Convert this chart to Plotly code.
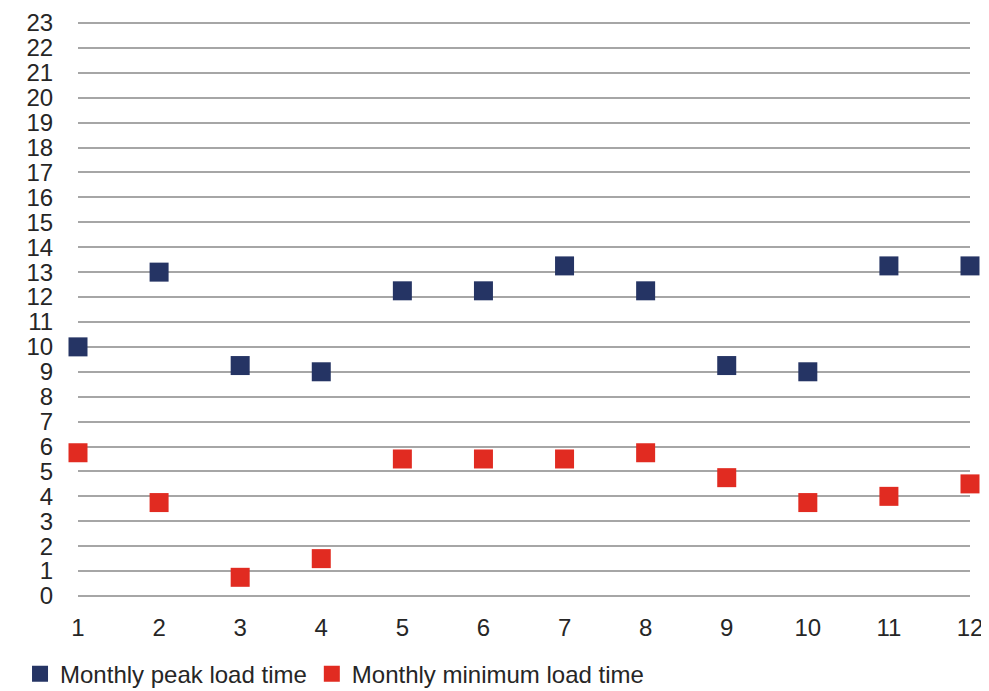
import plotly.graph_objects as go

months = [1, 2, 3, 4, 5, 6, 7, 8, 9, 10, 11, 12]
peak_load_time = [10, 13, 9.25, 9, 12.25, 12.25, 13.25, 12.25, 9.25, 9, 13.25, 13.25]
min_load_time = [5.75, 3.75, 0.75, 1.5, 5.5, 5.5, 5.5, 5.75, 4.75, 3.75, 4, 4.5]
y_ticks = list(range(0, 24))

FONT = "Liberation Sans, Arial, sans-serif"
GRID = "#a6a6a6"

fig = go.Figure()
fig.add_trace(go.Scatter(
    x=months, y=peak_load_time, mode="markers", name="Monthly peak load time",
    marker=dict(symbol="square", size=19, color="#253464"), cliponaxis=False))
fig.add_trace(go.Scatter(
    x=months, y=min_load_time, mode="markers", name="Monthly minimum load time",
    marker=dict(symbol="square", size=19, color="#e12b21"), cliponaxis=False))

# page body has an 8px margin, so the figure is sized/offset to compensate
fig.update_layout(
    width=981, height=683,
    margin=dict(l=70, r=19, t=13, b=95, autoexpand=False),
    paper_bgcolor="white", plot_bgcolor="white",
    font=dict(family=FONT, size=24, color="#262626"),
    showlegend=True,
    legend=dict(orientation="h", x=-0.065, xanchor="left", y=-0.136, yanchor="middle",
                font=dict(size=24), itemwidth=30, tracegroupgap=0, bgcolor="rgba(0,0,0,0)"),
    xaxis=dict(range=[1, 12], tickvals=months, showgrid=False, zeroline=False,
               showline=False, ticks="outside", ticklen=10, tickcolor="rgba(0,0,0,0)",
               tickfont=dict(size=24), automargin=False, ticklabeloverflow="allow"),
    yaxis=dict(range=[0, 23.08], tickvals=y_ticks, showgrid=True, gridcolor=GRID,
               gridwidth=1.5, zeroline=True, zerolinecolor=GRID, zerolinewidth=1.5,
               showline=False, ticks="outside", ticklen=19,
               tickcolor="rgba(0,0,0,0)", tickfont=dict(size=24), automargin=False,
               ticklabeloverflow="allow"),
)

fig.write_html("out.html")
